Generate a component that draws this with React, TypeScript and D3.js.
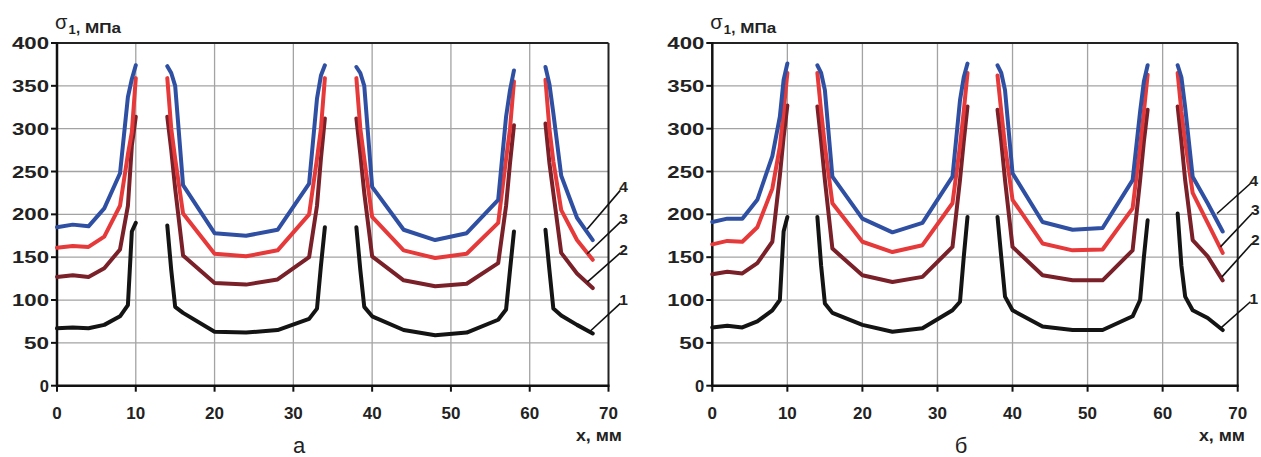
import React from 'react';
import * as d3 from 'd3';

// x positions (mm); null separates the four segments of every curve
const X_MM: (number | null)[] = [
  0, 2, 4, 6, 8, 9, 9.5, 10, null,
  14, 14.5, 15, 16, 20, 24, 28, 32, 33, 33.5, 34, null,
  38, 38.5, 39, 40, 44, 48, 52, 56, 57, 57.5, 58, null,
  62, 62.5, 63, 64, 66, 68,
];

// Panel "а"
const A_CURVE_1: (number | null)[] = [
  67, 68, 67, 71, 81, 94, 180, 190, null,
  187, 135, 92, 85, 63, 62, 65, 78, 90, 140, 185, null,
  185, 135, 92, 81, 65, 59, 62, 77, 89, 135, 180, null,
  182, 135, 90, 82, 71, 61,
];
const A_CURVE_2: (number | null)[] = [
  127, 129, 127, 137, 159, 210, 280, 314, null,
  314, 275, 230, 152, 120, 118, 124, 150, 210, 265, 312, null,
  312, 270, 225, 151, 123, 116, 119, 143, 210, 260, 304, null,
  306, 260, 225, 155, 131, 114,
];
const A_CURVE_3: (number | null)[] = [
  161, 163, 162, 174, 210, 270, 296, 359, null,
  359, 300, 265, 201, 154, 151, 158, 200, 265, 300, 359, null,
  359, 300, 265, 197, 158, 149, 154, 190, 265, 300, 355, null,
  357, 300, 262, 205, 170, 147,
];
const A_CURVE_4: (number | null)[] = [
  185, 188, 186, 207, 248, 337, 358, 374, null,
  373, 365, 350, 234, 178, 175, 182, 236, 335, 362, 374, null,
  372, 365, 350, 232, 182, 170, 178, 217, 314, 345, 368, null,
  372, 352, 318, 245, 196, 170,
];

// Panel "б"
const B_CURVE_1: (number | null)[] = [
  68, 70, 68, 75, 88, 100, 180, 197, null,
  197, 140, 96, 85, 71, 63, 67, 88, 98, 150, 197, null,
  197, 150, 104, 88, 69, 65, 65, 81, 100, 150, 193, null,
  201, 140, 104, 88, 79, 65,
];
const B_CURVE_2: (number | null)[] = [
  130, 133, 131, 143, 168, 245, 290, 327, null,
  326, 285, 240, 160, 129, 121, 127, 162, 240, 285, 326, null,
  322, 285, 240, 162, 129, 123, 123, 158, 240, 285, 322, null,
  326, 285, 240, 170, 151, 123,
];
const B_CURVE_3: (number | null)[] = [
  165, 169, 168, 185, 230, 279, 320, 365, null,
  365, 320, 280, 213, 168, 156, 164, 213, 280, 320, 365, null,
  362, 320, 280, 217, 166, 158, 159, 207, 280, 320, 363, null,
  365, 320, 285, 225, 190, 155,
];
const B_CURVE_4: (number | null)[] = [
  191, 195, 195, 217, 268, 314, 357, 376, null,
  374, 365, 345, 244, 195, 179, 190, 244, 333, 360, 376, null,
  374, 365, 345, 248, 191, 182, 184, 240, 320, 355, 374, null,
  374, 360, 325, 244, 213, 180,
];

const CURVE_NAMES = ['1', '2', '3', '4'];
const X_TICKS = [0, 10, 20, 30, 40, 50, 60, 70];
const Y_TICKS = [0, 50, 100, 150, 200, 250, 300, 350, 400];

// leader lines to curve numbers (data units), curves 1..4
const A_LEADER_FROM_X = [67.6, 67.3, 67.3, 67.3];
const A_LEADER_FROM_V = [63, 121, 154, 183];
const A_LEADER_TO_X = [71.5, 71.5, 71.5, 71.5];
const A_LEADER_TO_V = [96, 155, 191, 228];
const B_LEADER_FROM_X = [67.7, 67.9, 67.7, 67.25];
const B_LEADER_FROM_V = [67, 127, 162, 201];
const B_LEADER_TO_X = [71.7, 71.9, 71.9, 71.7];
const B_LEADER_TO_V = [98, 166, 201, 236];

const COLORS = ['#141414', '#7a2029', '#e5393a', '#2f4fa2'];
const FONT = '"Liberation Sans", Arial, sans-serif';

type PanelProps = {
  x0: number;
  x1: number;
  curves: (number | null)[][];
  fromX: number[];
  fromV: number[];
  toX: number[];
  toV: number[];
  letter: string;
  letterX: number;
  unitRight: number;
};

function Panel(p: PanelProps) {
  const top = 43;
  const bottom = 385.7;
  const x = d3.scaleLinear().domain([0, 70]).range([p.x0, p.x1]);
  const y = d3.scaleLinear().domain([0, 400]).range([bottom, top]);
  const line = d3
    .line<[number | null, number | null]>()
    .defined((d) => d[0] != null && d[1] != null)
    .x((d) => x(d[0] as number))
    .y((d) => y(d[1] as number));

  return (
    <g>
      {/* grid */}
      {X_TICKS.filter((t) => t > 0 && t < 70).map((t) => (
        <line key={'gx' + t} x1={x(t)} x2={x(t)} y1={top} y2={bottom} stroke="#a3a3a3" strokeWidth={1.3} />
      ))}
      {Y_TICKS.filter((t) => t > 0 && t < 400).map((t) => (
        <line key={'gy' + t} x1={p.x0} x2={p.x1} y1={y(t)} y2={y(t)} stroke="#a3a3a3" strokeWidth={1.3} />
      ))}
      {/* frame */}
      <line x1={p.x0} x2={p.x1} y1={top} y2={top} stroke="#222" strokeWidth={2} />
      <line x1={p.x1} x2={p.x1} y1={top} y2={bottom} stroke="#222" strokeWidth={2} />
      <line x1={p.x0} x2={p.x0} y1={top - 1} y2={bottom + 1} stroke="#111" strokeWidth={2.5} />
      <line x1={p.x0 - 1} x2={p.x1 + 1} y1={bottom} y2={bottom} stroke="#111" strokeWidth={2.5} />
      {/* ticks */}
      {X_TICKS.map((t) => (
        <g key={'tx' + t}>
          <line x1={x(t)} x2={x(t)} y1={bottom} y2={bottom + 6} stroke="#111" strokeWidth={2} />
          <text x={x(t)} y={419} textAnchor="middle" fontSize={17} fontWeight="bold" fill="#222" fontFamily={FONT}>
            {t}
          </text>
        </g>
      ))}
      {Y_TICKS.map((t) => {
        const s = String(t);
        const len = s.length === 3 ? 37 : s.length === 2 ? 25 : undefined;
        return (
          <g key={'ty' + t}>
            <line x1={p.x0 - 6} x2={p.x0} y1={y(t)} y2={y(t)} stroke="#111" strokeWidth={2} />
            <text
              x={p.x0 - 8}
              y={y(t) + 6}
              textAnchor="end"
              fontSize={16.5}
              fontWeight="bold"
              fill="#222"
              fontFamily={FONT}
              textLength={len}
              lengthAdjust={len ? 'spacingAndGlyphs' : undefined}
            >
              {s}
            </text>
          </g>
        );
      })}
      {/* curves */}
      {p.curves.map((vals, i) => (
        <path
          key={'c' + i}
          d={line(X_MM.map((xv, j) => [xv, vals[j]] as [number | null, number | null])) || ''}
          fill="none"
          stroke={COLORS[i]}
          strokeWidth={4}
          strokeLinejoin="round"
          strokeLinecap="round"
        />
      ))}
      {/* curve number leaders */}
      {CURVE_NAMES.map((n, i) => (
        <g key={'l' + n}>
          <line
            x1={x(p.fromX[i])}
            y1={y(p.fromV[i])}
            x2={x(p.toX[i])}
            y2={y(p.toV[i])}
            stroke="#111"
            strokeWidth={1.6}
          />
          <text x={x(p.toX[i]) - 1} y={y(p.toV[i]) + 2} fontSize={15.5} fontWeight="bold" fill="#222" fontFamily={FONT}>
            {n}
          </text>
        </g>
      ))}
      {/* axis titles */}
      <text x={p.x0 - 2} y={29} fontSize={20} fill="#222" fontFamily={FONT}>σ</text>
      <text x={p.x0 + 11.5} y={33.5} fontSize={13} fontWeight="bold" fill="#222" fontFamily={FONT}>1</text>
      <text x={p.x0 + 19} y={32.5} fontSize={15} fontWeight="bold" fill="#222" fontFamily={FONT}>,</text>
      <text
        x={p.x0 + 28}
        y={32.5}
        fontSize={15}
        fontWeight="bold"
        fill="#222"
        fontFamily={FONT}
        textLength={36}
        lengthAdjust="spacingAndGlyphs"
      >
        МПа
      </text>
      <text
        x={p.unitRight}
        y={441}
        textAnchor="end"
        fontSize={16}
        fontWeight="bold"
        fill="#222"
        fontFamily={FONT}
        textLength={46}
        lengthAdjust="spacingAndGlyphs"
      >
        x, мм
      </text>
      <text x={p.letterX} y={453} textAnchor="middle" fontSize={22} fill="#222" fontFamily={FONT}>
        {p.letter}
      </text>
    </g>
  );
}

export default function App() {
  return (
    <svg
      width={1261}
      height={457}
      style={{ position: 'absolute', left: 0, top: 0, background: '#fff' }}
    >
      <rect x={0} y={0} width={1261} height={457} fill="#fff" />
      <Panel
        x0={57}
        x1={608.5}
        curves={[A_CURVE_1, A_CURVE_2, A_CURVE_3, A_CURVE_4]}
        fromX={A_LEADER_FROM_X}
        fromV={A_LEADER_FROM_V}
        toX={A_LEADER_TO_X}
        toV={A_LEADER_TO_V}
        letter="а"
        letterX={299}
        unitRight={622}
      />
      <Panel
        x0={712.3}
        x1={1237.7}
        curves={[B_CURVE_1, B_CURVE_2, B_CURVE_3, B_CURVE_4]}
        fromX={B_LEADER_FROM_X}
        fromV={B_LEADER_FROM_V}
        toX={B_LEADER_TO_X}
        toV={B_LEADER_TO_V}
        letter="б"
        letterX={961}
        unitRight={1245}
      />
    </svg>
  );
}
